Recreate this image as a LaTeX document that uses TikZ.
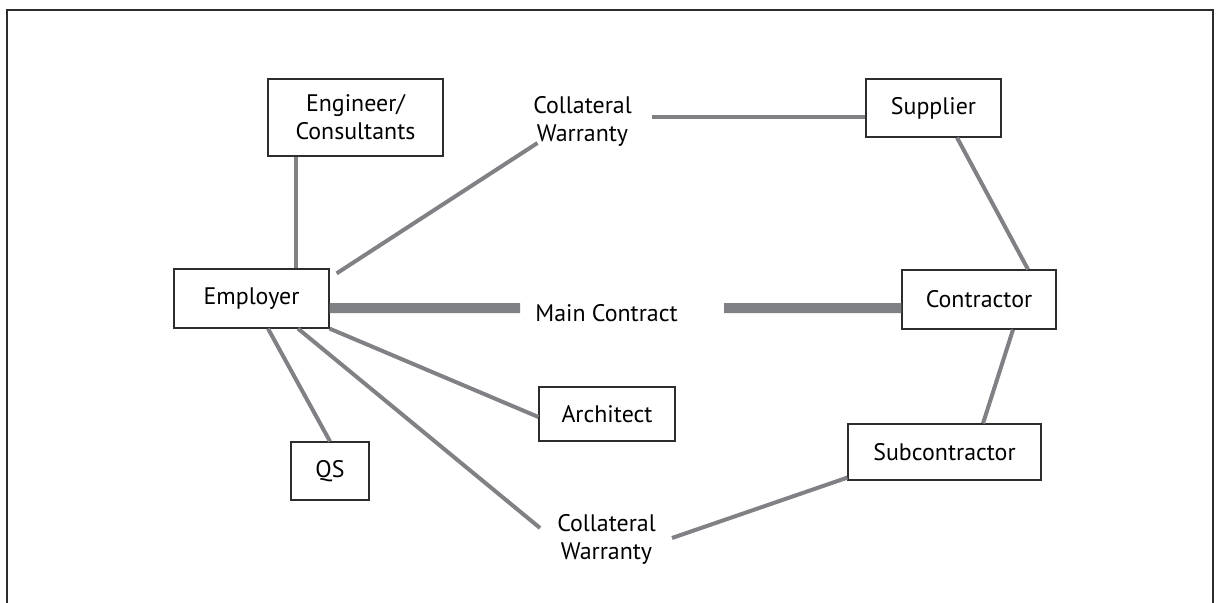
\documentclass[tikz,border=0pt]{standalone}
\usepackage{fontspec}
\setmainfont{PT Sans}
\definecolor{linegray}{RGB}{128,129,133}
\definecolor{framecol}{RGB}{45,45,45}
\tikzset{
  box/.style={draw=framecol, line width=0.6bp, fill=white, inner sep=0pt, align=center, font=\fontsize{12}{14}\selectfont},
  lbl/.style={inner sep=0pt, align=center, font=\fontsize{12}{14}\selectfont},
  conn/.style={draw=linegray, line width=2bp},
  thick conn/.style={draw=linegray, line width=5bp},
}
\begin{document}
\begin{tikzpicture}[x=0.5bp, y=-0.5bp]
\useasboundingbox (0,0) rectangle (1218,603);
\draw[framecol, line width=1bp] (7,610) -- (7,10) -- (1213,10) -- (1213,610);

\node[box, minimum width=87.5bp, minimum height=38.5bp] (eng) at (355.5,117.5) {Engineer/\\Consultants};
\node[box, minimum width=77.5bp, minimum height=29.5bp] (emp) at (251.5,298.5) {Employer};
\node[box, minimum width=77bp, minimum height=29.5bp] (con) at (979,299.5) {Contractor};
\node[box, minimum width=67.5bp, minimum height=29bp] (sup) at (933.5,108) {Supplier};
\node[box, minimum width=68bp, minimum height=27bp] (arch) at (607,414) {Architect};
\node[box, minimum width=39bp, minimum height=29bp] (qs) at (330,471) {QS};
\node[box, minimum width=96.5bp, minimum height=28bp] (sub) at (944.5,452) {Subcontractor};

\node[lbl] (cw1) at (582.5,121) {Collateral\\Warranty};
\node[lbl] (cw2) at (606.5,539) {Collateral\\Warranty};
\node[lbl] (mc) at (606.5,313) {Main Contract};

% connectors
\draw[conn] ([xshift=14.5bp]eng.south west) -- ([xshift=14.5bp]eng.south west |- emp.north);
\draw[conn] ([shift={(7,5)}]emp.north east) -- ([shift={(-45,22)}]cw1.center);
\draw[conn] ([shift={(69,-4)}]cw1.center) -- ([shift={(0,9)}]sup.west);
\draw[conn] ([xshift=11.75bp]sup.south) -- ([xshift=24.5bp]con.north);
\draw[conn] ([xshift=17bp]con.south) -- ([xshift=19.25bp]sub.north);
\draw[conn] ([yshift=1.5bp]sub.south west) -- ([shift={(65.5,-1)}]cw2.center);
\draw[conn] ([xshift=23.25bp]emp.south) -- ([shift={(-66.5,-11)}]cw2.center);
\draw[conn] (emp.south east) -- ([yshift=-1.5bp]arch.west);
\draw[conn] ([xshift=8.25bp]emp.south) -- (qs.north);
\draw[thick conn] ([yshift=-4.75bp]emp.east) -- ([shift={(-86.5,-5)}]mc.center);
\draw[thick conn] ([shift={(117.5,-5)}]mc.center) -- ([yshift=-4.25bp]con.west);
\end{tikzpicture}
\end{document}
